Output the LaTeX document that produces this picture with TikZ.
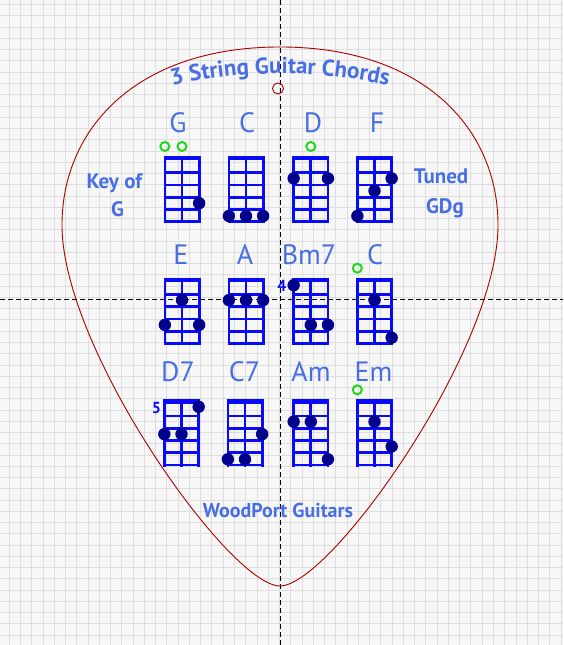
\documentclass[tikz,border=0pt]{standalone}
\usepackage{fontspec}
\setmainfont{PT Sans}
\usetikzlibrary{decorations.text}

\definecolor{bggray}{HTML}{F7F7F7}
\definecolor{gridgray}{HTML}{DEDEDE}
\definecolor{inkblue}{RGB}{72,110,228}
\definecolor{boxblue}{RGB}{10,10,250}
\definecolor{dotblue}{RGB}{0,0,140}
\definecolor{opengreen}{RGB}{30,215,30}
\definecolor{pickred}{RGB}{170,0,0}

% chord box: left, top, finger dots as string/fret
\newcommand{\chordbox}[3]{%
  \begin{scope}[shift={(#1,#2)}]
    \foreach \sx in {1.35,18.5,35.65}
      \draw[stringline] (\sx,0) -- (\sx,-67.3);
    \draw[nutline] (0,-2.15) -- (37,-2.15);
    \foreach \fy in {16.8,29.05,41.3,53.55,65.7}
      \draw[fretline] (0,-\fy) -- (37,-\fy);
    \foreach \st/\fr in {#3} {
      \pgfmathsetmacro{\dy}{{7.5,22.4,34.8,47.2,60}[\fr-1]}
      \fill[fingerdot] ({1.35+17.15*(\st-1)},-\dy) circle (6.2);
    }
  \end{scope}}

\begin{document}
\begin{tikzpicture}[x=1pt,y=1pt,
    gridline/.style={draw=gridgray, line width=1pt},
    axisline/.style={black, line width=1pt, dash pattern=on 5pt off 3pt},
    pickline/.style={draw=pickred, line width=0.9pt},
    stringline/.style={draw=boxblue, line width=2.7pt},
    fretline/.style={draw=boxblue, line width=2.7pt},
    nutline/.style={draw=boxblue, line width=4.3pt},
    fingerdot/.style={fill=dotblue},
    opendot/.style={draw=opengreen, line width=2pt},
    chordname/.style={text=inkblue, anchor=base, inner sep=0pt, font=\fontsize{28}{28}\selectfont},
    sidetext/.style={text=inkblue, anchor=base, inner sep=0pt, font=\fontsize{21}{21}\selectfont\bfseries},
    fretnum/.style={text=boxblue, inner sep=0pt, font=\fontsize{16}{16}\selectfont\bfseries}]
\useasboundingbox (0,0) rectangle (563,645);
\fill[bggray] (0,0) rectangle (563,645);

% Grid paper
\foreach \gx in {0,...,49}
  \draw[gridline] ({9.3+11.26*\gx},0) -- ({9.3+11.26*\gx},645);
\foreach \gy in {0,...,56}
  \draw[gridline] (0,{640.3-11.26*\gy}) -- (563,{640.3-11.26*\gy});

% Centre lines
\draw[axisline] (280,0) -- (280,645);
\draw[axisline] (0,345) -- (563,345);

% Pick outline and hole
\draw[pickline] (280,59) .. controls (330,59) and (498,295) .. (498,420)
  .. controls (498,515) and (425,598) .. (280,598)
  .. controls (135,598) and (62,515) .. (62,420)
  .. controls (62,295) and (230,59) .. (280,59) -- cycle;
\draw[pickline] (278,556.5) circle (5.5);

% Title
\path[decorate, decoration={text along path, text color=inkblue,
    text={|\fontsize{23}{23}\selectfont\bfseries|3 String Guitar Chords},
    text align=center}]
  (149.1,553.7) arc[start angle=105.5, end angle=74.5, radius=490];

% Side texts
\node[sidetext] (keyof) at (114.3,456.7) {Key of};
\node[sidetext] (keyG) at (117.5,428.3) {G};
\node[sidetext] (tuned) at (441,461.7) {Tuned};
\node[sidetext] (tuning) at (445,431.5) {GDg};
\node[sidetext, font=\fontsize{20}{20}\selectfont\bfseries] (maker) at (278,127) {WoodPort Guitars};

% Row 1
\node[chordname] (nameG) at (178,512) {G};
\node[chordname] (nameC) at (247,512) {C};
\node[chordname] (nameD) at (313,512) {D};
\node[chordname] (nameF) at (377,512) {F};
\chordbox{163.5}{489}{3/4}
\chordbox{227.5}{489}{1/5,2/5,3/5}
\chordbox{292.3}{489}{1/2,3/2}
\chordbox{356}{489}{3/2,2/3,1/5}
\draw[opendot] (164.85,498.5) circle (4.5);
\draw[opendot] (182,498.5) circle (4.5);
\draw[opendot] (310.8,498.5) circle (4.5);

% Row 2
\node[chordname] (nameE) at (181,380) {E};
\node[chordname] (nameA) at (245,380) {A};
\node[chordname] (nameBm) at (309,380) {Bm7};
\node[chordname] (nameCb) at (375,380) {C};
\node[fretnum] (fretfour) at (282,359) {4};
\chordbox{163.5}{367.3}{2/2,1/4,3/4}
\chordbox{227.5}{367.3}{1/2,2/2,3/2}
\chordbox{292.3}{367.3}{1/1,2/4,3/4}
\chordbox{356}{367.3}{2/2,3/5}
\draw[opendot] (357.35,376.8) circle (4.5);

% Row 3
\node[chordname] (nameDs) at (178,263.5) {D7};
\node[chordname] (nameCs) at (244.5,263.5) {C7};
\node[chordname] (nameAm) at (311,263.5) {Am};
\node[chordname] (nameEm) at (373.5,263.5) {Em};
\node[fretnum] (fretfive) at (156.5,237.3) {5};
\chordbox{163}{245.7}{3/1,1/3,2/3}
\chordbox{226.5}{245.7}{3/3,1/5,2/5}
\chordbox{292.3}{245.7}{1/2,2/2,3/5}
\chordbox{356}{245.7}{2/2,3/4}
\draw[opendot] (357.35,255.2) circle (4.5);
\end{tikzpicture}
\end{document}
